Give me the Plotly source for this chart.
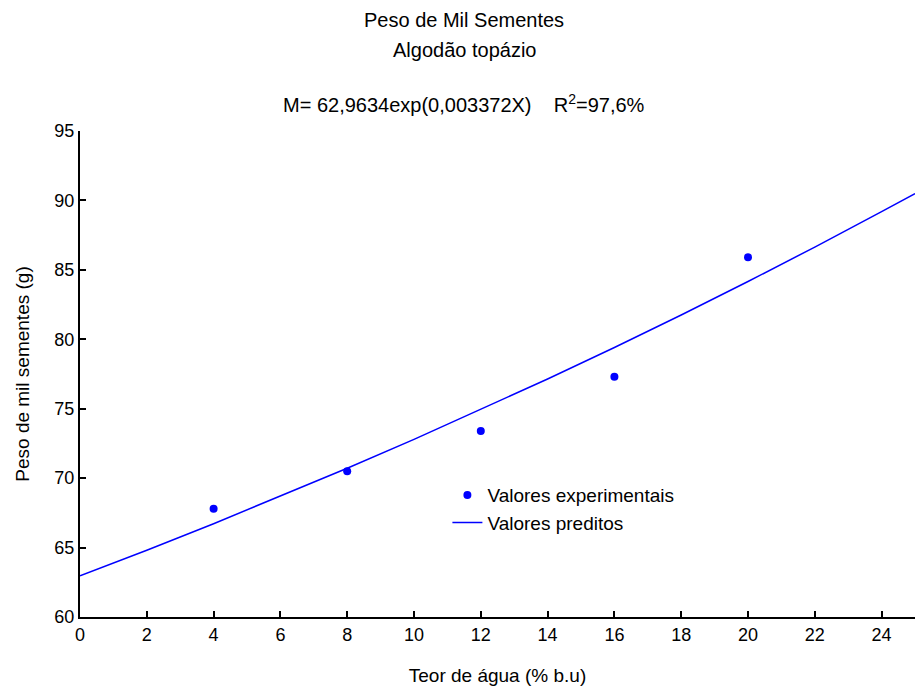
import plotly.graph_objects as go

# Experimental data
x_exp = [4, 8, 12, 16, 20]
y_exp = [67.8, 70.5, 73.4, 77.3, 85.9]

# Predicted curve
x_pred = [0, 2, 4, 6, 8, 10, 12, 14, 16, 18, 20, 22, 24, 25]
y_pred = [62.96, 64.81, 66.72, 68.69, 70.71, 72.79, 74.94, 77.14, 79.41, 81.75, 84.16, 86.64, 89.19, 90.49]

x_ticks = [0, 2, 4, 6, 8, 10, 12, 14, 16, 18, 20, 22, 24]
y_ticks = [60, 65, 70, 75, 80, 85, 90, 95]

title_lines = ["Peso de Mil Sementes", "Algodão topázio",
               "M= 62,9634exp(0,003372X)    R<sup>2</sup>=97,6%"]

FONT = "Liberation Sans, Arial, sans-serif"
BLUE = "rgb(0,0,255)"

fig = go.Figure()
fig.add_trace(go.Scatter(x=x_exp, y=y_exp, mode="markers", name="Valores experimentais",
                         marker=dict(color=BLUE, size=8)))
fig.add_trace(go.Scatter(x=x_pred, y=y_pred, mode="lines", name="Valores preditos",
                         line=dict(color=BLUE, width=1.5)))

axis_common = dict(showgrid=False, zeroline=False, showline=True, linecolor="black",
                   linewidth=2, ticks="inside", ticklen=6, tickcolor="black", tickwidth=1.5,
                   tickfont=dict(size=18, color="black", family=FONT))

fig.update_layout(
    width=915, height=686,
    margin=dict(l=80, r=0, t=131, b=69),
    paper_bgcolor="white", plot_bgcolor="white",
    font=dict(family=FONT, color="black", size=18),
    xaxis=dict(range=[0, 25], tickvals=x_ticks, ticktext=[str(v) for v in x_ticks],
               title=dict(text="Teor de água (% b.u)", standoff=28, font=dict(size=19)),
               **axis_common),
    yaxis=dict(range=[60, 95], tickvals=y_ticks, ticktext=[str(v) for v in y_ticks],
               title=dict(text="Peso de mil sementes (g)", standoff=20, font=dict(size=19)),
               **axis_common),
    legend=dict(x=0.44, y=0.29, xanchor="left", yanchor="top", bgcolor="rgba(0,0,0,0)",
                font=dict(size=19), itemwidth=30, tracegroupgap=0),
    showlegend=True,
)

for txt, yp in zip(title_lines, [1.2284, 1.1667, 1.0576]):
    fig.add_annotation(text=txt, xref="paper", yref="paper", x=0.46, y=yp,
                       xanchor="center", yanchor="middle", showarrow=False,
                       font=dict(size=20, color="black", family=FONT))

fig.write_html("out.html")
